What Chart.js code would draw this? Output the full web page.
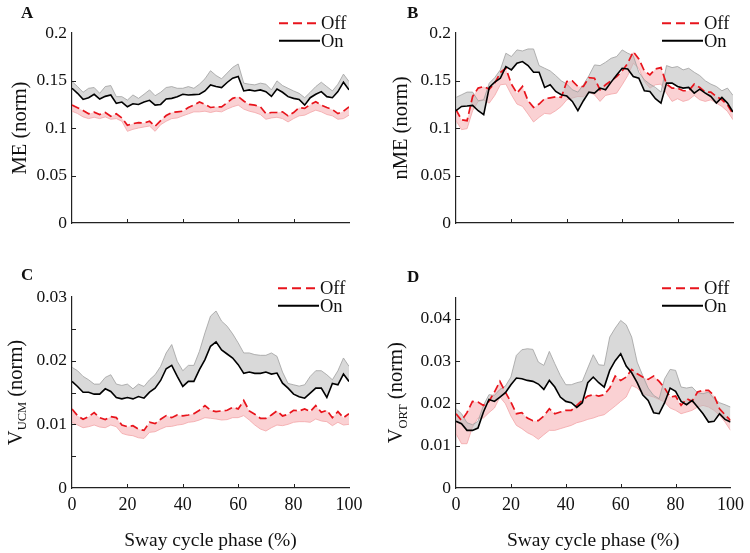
<!DOCTYPE html>
<html>
<head>
<meta charset="utf-8">
<script src="https://cdn.jsdelivr.net/npm/chart.js@4.4.0/dist/chart.umd.min.js"></script>
<style>
html, body { margin: 0; padding: 0; background: #fff; }
#fig { position: relative; width: 750px; height: 553px; overflow: hidden; }
#fig canvas { position: absolute; }
</style>
</head>
<body>
<div id="fig">
<canvas id="pA" width="375" height="250" style="left:0;top:0"></canvas>
<canvas id="pB" width="375" height="250" style="left:375px;top:0"></canvas>
<canvas id="pC" width="375" height="303" style="left:0;top:250px"></canvas>
<canvas id="pD" width="375" height="303" style="left:375px;top:250px"></canvas>
</div>
<script>
"use strict";

// sway cycle phase (%)
const phase = [0,2,4,6,8,10,12,14,16,18,20,22,24,26,28,30,32,34,36,38,40,42,44,46,48,50,
    52,54,56,58,60,62,64,66,68,70,72,74,76,78,80,82,84,86,88,90,92,94,96,98,100];

// A: ME (norm)
const onA = [0.1418,0.1365,0.1301,0.1319,0.1355,0.1305,0.1333,0.1348,0.1259,0.1273,0.1223,0.1255,0.1248,0.1273,0.1291,0.1241,0.1248,0.1305,0.1312,0.1330,0.1355,0.1348,0.1351,0.1355,0.1390,0.1454,
    0.1436,0.1426,0.1479,0.1525,0.1543,0.1390,0.1401,0.1390,0.1401,0.1383,0.1333,0.1411,0.1376,0.1330,0.1312,0.1301,0.1241,0.1319,0.1355,0.1383,0.1330,0.1319,0.1383,0.1482,0.1401];
const onAHi = [0.1489,0.1436,0.1376,0.1418,0.1426,0.1365,0.1436,0.1447,0.1330,0.1330,0.1294,0.1348,0.1312,0.1355,0.1401,0.1340,0.1376,0.1426,0.1436,0.1418,0.1418,0.1436,0.1418,0.1461,0.1518,0.1603,
    0.1553,0.1518,0.1578,0.1638,0.1674,0.1472,0.1461,0.1454,0.1472,0.1461,0.1401,0.1496,0.1447,0.1418,0.1390,0.1365,0.1319,0.1376,0.1436,0.1482,0.1436,0.1390,0.1461,0.1567,0.1489];
const offA = [0.1241,0.1213,0.1184,0.1149,0.1167,0.1142,0.1163,0.1124,0.1149,0.1106,0.1028,0.1046,0.1057,0.1053,0.1071,0.1018,0.1078,0.1131,0.1163,0.1170,0.1177,0.1216,0.1241,0.1273,0.1248,0.1216,
    0.1223,0.1223,0.1266,0.1312,0.1330,0.1284,0.1248,0.1241,0.1223,0.1152,0.1163,0.1163,0.1170,0.1128,0.1163,0.1216,0.1206,0.1248,0.1277,0.1241,0.1216,0.1195,0.1152,0.1177,0.1223];
const offALo = [0.1177,0.1152,0.1117,0.1099,0.1113,0.1099,0.1117,0.1092,0.1099,0.1071,0.0965,0.0986,0.1000,0.1011,0.1021,0.0965,0.1035,0.1071,0.1099,0.1106,0.1128,0.1149,0.1170,0.1170,0.1177,0.1163,
    0.1177,0.1170,0.1199,0.1223,0.1241,0.1199,0.1177,0.1163,0.1142,0.1092,0.1106,0.1113,0.1099,0.1064,0.1099,0.1128,0.1135,0.1163,0.1188,0.1170,0.1142,0.1128,0.1092,0.1099,0.1135];

// B: nME (norm)
const onB = [0.1182,0.1227,0.1231,0.1238,0.1182,0.1140,0.1427,0.1483,0.1524,0.1647,0.1612,0.1682,0.1699,0.1657,0.1587,0.1587,0.1427,0.1455,0.1385,0.1350,0.1336,0.1280,0.1182,0.1287,0.1378,0.1367,
    0.1420,0.1402,0.1483,0.1559,0.1629,0.1622,0.1542,0.1524,0.1392,0.1385,0.1308,0.1262,0.1472,0.1472,0.1437,0.1420,0.1427,0.1367,0.1409,0.1367,0.1332,0.1262,0.1322,0.1262,0.1168];
const onBHi = [0.1322,0.1350,0.1378,0.1378,0.1287,0.1297,0.1472,0.1531,0.1612,0.1787,0.1752,0.1822,0.1811,0.1832,0.1832,0.1657,0.1629,0.1601,0.1552,0.1497,0.1462,0.1402,0.1378,0.1455,0.1552,0.1664,
    0.1657,0.1692,0.1734,0.1752,0.1822,0.1787,0.1762,0.1587,0.1507,0.1462,0.1427,0.1378,0.1657,0.1636,0.1647,0.1612,0.1629,0.1587,0.1552,0.1497,0.1462,0.1437,0.1392,0.1420,0.1343];
const offB = [0.1192,0.1087,0.1077,0.1332,0.1420,0.1437,0.1409,0.1472,0.1584,0.1629,0.1462,0.1367,0.1437,0.1287,0.1217,0.1252,0.1308,0.1318,0.1329,0.1322,0.1490,0.1497,0.1437,0.1437,0.1531,0.1524,
    0.1402,0.1455,0.1497,0.1542,0.1601,0.1682,0.1804,0.1727,0.1601,0.1559,0.1622,0.1636,0.1462,0.1420,0.1420,0.1392,0.1392,0.1462,0.1427,0.1378,0.1378,0.1332,0.1297,0.1245,0.1147];
const offBLo = [0.1077,0.0983,0.0993,0.1182,0.1280,0.1294,0.1262,0.1343,0.1455,0.1462,0.1350,0.1252,0.1227,0.1147,0.1063,0.1112,0.1154,0.1147,0.1182,0.1227,0.1297,0.1315,0.1332,0.1329,0.1378,0.1350,
    0.1280,0.1343,0.1357,0.1367,0.1455,0.1552,0.1682,0.1629,0.1490,0.1420,0.1455,0.1462,0.1367,0.1280,0.1308,0.1280,0.1297,0.1343,0.1297,0.1280,0.1297,0.1262,0.1227,0.1175,0.1087];

// C: V UCM (norm)
const onC = [0.01674,0.01595,0.01505,0.01505,0.01474,0.01474,0.01558,0.01516,0.01421,0.01400,0.01421,0.01400,0.01437,0.01411,0.01505,0.01568,0.01689,0.01874,0.01926,0.01753,0.01595,0.01674,0.01674,0.01858,0.02016,0.02226,
    0.02295,0.02168,0.02105,0.02042,0.01937,0.01800,0.01821,0.01800,0.01800,0.01821,0.01789,0.01805,0.01647,0.01568,0.01474,0.01432,0.01411,0.01489,0.01568,0.01568,0.01421,0.01642,0.01621,0.01789,0.01674];
const onCHi = [0.01895,0.01842,0.01753,0.01700,0.01632,0.01632,0.01737,0.01779,0.01632,0.01611,0.01632,0.01558,0.01632,0.01595,0.01700,0.01779,0.01911,0.02121,0.02253,0.01989,0.01842,0.01926,0.01926,0.02147,0.02437,0.02700,
    0.02780,0.02621,0.02542,0.02421,0.02279,0.02121,0.02121,0.02095,0.02084,0.02084,0.02121,0.02068,0.01821,0.01642,0.01621,0.01600,0.01621,0.01753,0.01842,0.01842,0.01779,0.01700,0.01842,0.02042,0.01911];
const offC = [0.01242,0.01137,0.01079,0.01121,0.01184,0.01105,0.01074,0.01121,0.01105,0.00989,0.00963,0.00979,0.00926,0.00905,0.01032,0.01011,0.01079,0.01137,0.01105,0.01147,0.01132,0.01147,0.01168,0.01221,0.01295,0.01221,
    0.01200,0.01211,0.01221,0.01268,0.01242,0.01374,0.01211,0.01158,0.01095,0.01095,0.01147,0.01211,0.01132,0.01158,0.01221,0.01211,0.01242,0.01200,0.01295,0.01189,0.01221,0.01105,0.01200,0.01105,0.01168];
const offCLo = [0.01032,0.00989,0.00947,0.00963,0.00989,0.00958,0.00947,0.00989,0.00963,0.00858,0.00832,0.00821,0.00789,0.00779,0.00874,0.00884,0.00926,0.00963,0.00968,0.00989,0.01000,0.01032,0.01042,0.01068,0.01105,0.01095,
    0.01084,0.01068,0.01074,0.01105,0.01105,0.01137,0.01068,0.00989,0.00926,0.00895,0.00947,0.00989,0.00979,0.01000,0.01032,0.01042,0.01042,0.01032,0.01084,0.01053,0.01042,0.00979,0.01032,0.00989,0.01000];

// D: V ORT (norm)
const onD = [0.01575,0.01520,0.01362,0.01362,0.01417,0.01795,0.02094,0.02047,0.02150,0.02252,0.02441,0.02598,0.02583,0.02543,0.02520,0.02457,0.02331,0.02543,0.02386,0.02150,0.02047,0.02016,0.01906,0.02016,0.02488,0.02622,
    0.02488,0.02386,0.02780,0.03008,0.03173,0.02882,0.02724,0.02488,0.02205,0.02071,0.01780,0.01756,0.02016,0.02362,0.02283,0.02047,0.01969,0.02071,0.01913,0.01756,0.01559,0.01575,0.01756,0.01622,0.01559];
const onDHi = [0.01874,0.01756,0.01543,0.01496,0.01575,0.01953,0.02205,0.02189,0.02331,0.02409,0.02622,0.03134,0.03268,0.03291,0.03276,0.02976,0.02898,0.03228,0.02937,0.02661,0.02441,0.02441,0.02488,0.02520,0.02835,0.03150,
    0.02913,0.02898,0.03567,0.03780,0.03960,0.03858,0.03567,0.02976,0.02661,0.02362,0.02189,0.02110,0.02583,0.02803,0.02780,0.02386,0.02362,0.02386,0.02252,0.02228,0.02268,0.02110,0.02016,0.01969,0.01913];
const offD = [0.01756,0.01598,0.01780,0.02047,0.02031,0.01953,0.02047,0.02268,0.02520,0.02268,0.02031,0.01756,0.01780,0.01654,0.01591,0.01591,0.01701,0.01874,0.01756,0.01795,0.01835,0.01835,0.01953,0.02071,0.02173,0.02205,
    0.02173,0.02205,0.02362,0.02646,0.02543,0.02622,0.02803,0.02701,0.02622,0.02567,0.02646,0.02520,0.02362,0.02150,0.02173,0.01953,0.02110,0.02047,0.02268,0.02307,0.02307,0.02189,0.01874,0.01732,0.01598];
const offDLo = [0.01283,0.01047,0.01047,0.01441,0.01654,0.01654,0.01780,0.01890,0.02150,0.01992,0.01701,0.01480,0.01402,0.01307,0.01244,0.01150,0.01260,0.01362,0.01362,0.01402,0.01441,0.01480,0.01543,0.01575,0.01622,0.01654,
    0.01701,0.01732,0.01835,0.01937,0.02047,0.02150,0.02425,0.02362,0.02228,0.02189,0.02150,0.02094,0.02031,0.01890,0.01835,0.01756,0.01795,0.01835,0.01913,0.01953,0.01913,0.01835,0.01717,0.01559,0.01362];

const seriesNames = ["Off", "On"];
const xTitle = "Sway cycle phase (%)";

const FONT = "'Liberation Serif', 'Times New Roman', serif";
const RED = "#e8141c";
const INK = "#111";

function pairs(vals) {
    return vals.map(function(v, i) { return { x: phase[i], y: v }; });
}

function tickText(step) {
    return function(v) {
        const k = v / step;
        if (Math.abs(k - Math.round(k)) > 1e-6) return "";
        return String(Number(v.toFixed(4)));
    };
}

// MATLAB style tick marks pointing into the plot
const inwardTicks = {
    id: "inwardTicks",
    afterDraw(chart) {
        const ctx = chart.ctx, a = chart.chartArea;
        const xs = chart.scales.x, ys = chart.scales.y;
        ctx.save();
        ctx.strokeStyle = "#222";
        ctx.lineWidth = 1;
        ctx.beginPath();
        xs.ticks.forEach(function(t) {
            if (t.value <= xs.min || t.value >= xs.max) return;
            const px = Math.round(xs.getPixelForValue(t.value)) + 0.5;
            ctx.moveTo(px, a.bottom);
            ctx.lineTo(px, a.bottom - 4);
        });
        ys.ticks.forEach(function(t) {
            if (t.value <= ys.min + 1e-9 || t.value >= ys.max - 1e-9) return;
            const py = Math.round(ys.getPixelForValue(t.value)) + 0.5;
            ctx.moveTo(a.left, py);
            ctx.lineTo(a.left + 4, py);
        });
        ctx.stroke();
        ctx.restore();
    }
};

// panel letter, legend, axis titles (y title may carry a subscript)
const decor = {
    id: "decor",
    afterDraw(chart, args, o) {
        const ctx = chart.ctx, a = chart.chartArea;
        ctx.save();
        ctx.fillStyle = INK;
        ctx.textBaseline = "alphabetic";
        ctx.textAlign = "left";
        ctx.font = "bold 17px " + FONT;
        ctx.fillText(o.letter, o.letterX, o.letterY);

        ctx.font = "18.5px " + FONT;
        ctx.lineWidth = 2;
        ctx.strokeStyle = RED;
        ctx.setLineDash([9, 5]);
        ctx.beginPath();
        ctx.moveTo(o.legendX, o.legendY);
        ctx.lineTo(o.legendX + 41, o.legendY);
        ctx.stroke();
        ctx.setLineDash([]);
        ctx.strokeStyle = "#000";
        ctx.beginPath();
        ctx.moveTo(o.legendX, o.legendY + 17.5);
        ctx.lineTo(o.legendX + 41, o.legendY + 17.5);
        ctx.stroke();
        ctx.fillText(seriesNames[0], o.legendX + 42, o.legendY + 6);
        ctx.fillText(seriesNames[1], o.legendX + 42, o.legendY + 23.5);

        if (o.showXTitle) {
            ctx.font = "19.5px " + FONT;
            ctx.textAlign = "center";
            ctx.fillText(xTitle, (a.left + a.right) / 2, o.xTitleY);
        }

        ctx.translate(o.yTitleX, (a.top + a.bottom) / 2);
        ctx.rotate(-Math.PI / 2);
        ctx.textAlign = "left";
        let total = 0;
        o.yTitle.forEach(function(p) {
            ctx.font = (p.sub ? "12.5px " : "20.5px ") + FONT;
            total += ctx.measureText(p.t).width;
        });
        let cx = -total / 2;
        o.yTitle.forEach(function(p) {
            ctx.font = (p.sub ? "12.5px " : "20.5px ") + FONT;
            ctx.fillText(p.t, cx, p.sub ? 4.5 : 0);
            cx += ctx.measureText(p.t).width;
        });
        ctx.restore();
    }
};

function makePanel(id, g, p) {
    return new Chart(document.getElementById(id), {
        type: "line",
        data: {
            datasets: [ {
                label: "On",
                data: pairs(p.on),
                borderColor: "#000",
                borderWidth: 1.6
            }, {
                label: "Off",
                data: pairs(p.off),
                borderColor: RED,
                borderWidth: 1.7,
                borderDash: [8, 4]
            }, {
                label: "On SE",
                data: pairs(p.onHi),
                borderColor: "#a0a0a0",
                borderWidth: 0.8,
                backgroundColor: "rgba(185,185,185,0.55)",
                fill: 0
            }, {
                label: "Off SE",
                data: pairs(p.offLo),
                borderColor: "#f3a4a7",
                borderWidth: 0.8,
                backgroundColor: "rgba(246,172,175,0.55)",
                fill: 1
            } ]
        },
        options: {
            responsive: false,
            animation: false,
            events: [],
            layout: {
                padding: { left: 0, top: g.top, right: g.right, bottom: 0 }
            },
            elements: {
                point: { radius: 0 },
                line: { tension: 0 }
            },
            plugins: {
                legend: { display: false },
                tooltip: { enabled: false },
                decor: p.decor
            },
            scales: {
                x: {
                    type: "linear",
                    min: 0,
                    max: 100,
                    ticks: {
                        stepSize: 20,
                        display: p.xLabels,
                        font: { family: FONT, size: 18 },
                        color: INK,
                        padding: 6,
                        maxRotation: 0
                    },
                    grid: { display: false, drawTicks: false },
                    border: { display: true, color: "#222", width: 1.2 },
                    afterFit: function(s) { s.height = g.xh; }
                },
                y: {
                    min: 0,
                    max: p.ymax,
                    ticks: {
                        stepSize: p.ystep,
                        callback: tickText(p.ylab),
                        font: { family: FONT, size: 17.5 },
                        color: INK,
                        padding: 5
                    },
                    grid: { display: false, drawTicks: false },
                    border: { display: true, color: "#222", width: 1.2 },
                    afterFit: function(s) { s.width = g.yw; }
                }
            }
        },
        plugins: [inwardTicks, decor]
    });
}

makePanel("pA", { yw: 72, top: 33, right: 26, xh: 27 }, {
    on: onA, onHi: onAHi, off: offA, offLo: offALo,
    ymax: 0.2, ystep: 0.05, ylab: 0.05, xLabels: false,
    decor: { letter: "A", letterX: 21, letterY: 17.5, legendX: 279, legendY: 23.3,
        yTitle: [ { t: "ME (norm)" } ], yTitleX: 26, showXTitle: false }
});
makePanel("pB", { yw: 81, top: 33, right: 17, xh: 27 }, {
    on: onB, onHi: onBHi, off: offB, offLo: offBLo,
    ymax: 0.2, ystep: 0.05, ylab: 0.05, xLabels: false,
    decor: { letter: "B", letterX: 32, letterY: 17.5, legendX: 287, legendY: 23.3,
        yTitle: [ { t: "nME (norm)" } ], yTitleX: 32, showXTitle: false }
});
makePanel("pC", { yw: 72, top: 47, right: 26, xh: 65 }, {
    on: onC, onHi: onCHi, off: offC, offLo: offCLo,
    ymax: 0.03, ystep: 0.005, ylab: 0.01, xLabels: true,
    decor: { letter: "C", letterX: 21, letterY: 30, legendX: 278, legendY: 38.3,
        yTitle: [ { t: "V" }, { t: "UCM", sub: true }, { t: " (norm)" } ], yTitleX: 21.5,
        showXTitle: true, xTitleY: 296 }
});
makePanel("pD", { yw: 81, top: 47.6, right: 17, xh: 65 }, {
    on: onD, onHi: onDHi, off: offD, offLo: offDLo,
    ymax: 0.045, ystep: 0.01, ylab: 0.01, xLabels: true,
    decor: { letter: "D", letterX: 32, letterY: 31.5, legendX: 287, legendY: 38.3,
        yTitle: [ { t: "V" }, { t: "ORT", sub: true }, { t: " (norm)" } ], yTitleX: 27,
        showXTitle: true, xTitleY: 296 }
});
</script>
</body>
</html>
